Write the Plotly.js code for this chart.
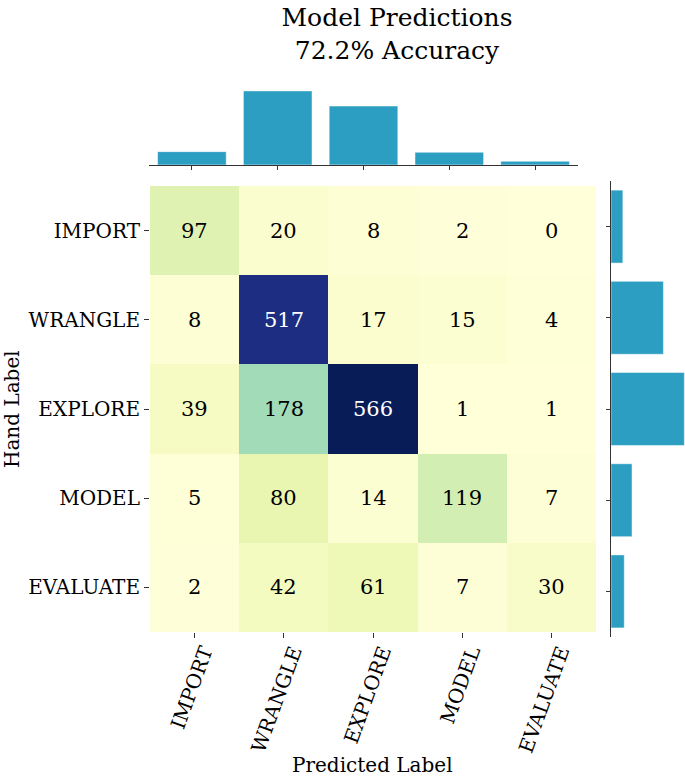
<!DOCTYPE html>
<html>
<head>
<meta charset="utf-8">
<script src="https://cdn.plot.ly/plotly-3.0.1.min.js"></script>
<style>
  html, body { margin: 0; padding: 0; background: #fff; }
  #graph { width: 685px; height: 778px; }
</style>
</head>
<body>
<div id="graph"></div>
<script>
// labels
var predicted = ['IMPORT', 'WRANGLE', 'EXPLORE', 'MODEL', 'EVALUATE']
var hand = ['IMPORT', 'WRANGLE', 'EXPLORE', 'MODEL', 'EVALUATE']

// confusion matrix, one row per hand label
var rowImport = [97, 20, 8, 2, 0]
var rowWrangle = [8, 517, 17, 15, 4]
var rowExplore = [39, 178, 566, 1, 1]
var rowModel = [5, 80, 14, 119, 7]
var rowEvaluate = [2, 42, 61, 7, 30]
var counts = [rowImport, rowWrangle, rowExplore, rowModel, rowEvaluate]

// marginal totals
var colTotals = predicted.map(function(_, j){
  return counts.reduce(function(s, r){ return s + r[j] }, 0)
})
var rowTotals = counts.map(function(r){
  return r.reduce(function(s, v){ return s + v }, 0)
})
var correct = counts.reduce(function(s, r, i){ return s + r[i] }, 0)
var total = rowTotals.reduce(function(s, v){ return s + v }, 0)
var accuracy = (100 * correct / total).toFixed(1)

var zmax = Math.max.apply(null, counts.map(function(r){ return Math.max.apply(null, r) }))

var ylgnbu = [
  [0.000, '#ffffd9'], [0.125, '#edf8b1'], [0.250, '#c7e9b4'],
  [0.375, '#7fcdbb'], [0.500, '#41b6c4'], [0.625, '#1d91c0'],
  [0.750, '#225ea8'], [0.875, '#253494'], [1.000, '#081d58']
]

var serif = 'DejaVu Serif, serif'
var barColor = '#2c9ec2'

var trace_heat = {
  type: 'heatmap',
  x: predicted,
  y: hand,
  z: counts,
  zmin: 0,
  zmax: zmax,
  colorscale: ylgnbu,
  showscale: false,
  xaxis: 'x',
  yaxis: 'y',
  hoverinfo: 'x+y+z'
}

var trace_top = {
  type: 'bar',
  x: predicted,
  y: colTotals,
  width: 0.8,
  marker: { color: barColor, line: { color: 'rgba(255,255,255,0.5)', width: 1 } },
  xaxis: 'x2',
  yaxis: 'y2',
  hoverinfo: 'x+y'
}

var trace_right = {
  type: 'bar',
  orientation: 'h',
  x: rowTotals,
  y: hand,
  width: 0.8,
  marker: { color: barColor, line: { color: 'rgba(255,255,255,0.5)', width: 1 } },
  xaxis: 'x3',
  yaxis: 'y3',
  hoverinfo: 'x+y'
}

// cell labels
var annotations = []
counts.forEach(function(r, i){
  r.forEach(function(v, j){
    annotations.push({
      x: predicted[j], y: hand[i], xref: 'x', yref: 'y',
      text: String(v), showarrow: false,
      font: { family: serif, size: 21, color: v / zmax > 0.6 ? '#ffffff' : '#000000' }
    })
  })
})

annotations.push({
  text: 'Predicted Label', showarrow: false,
  xref: 'paper', yref: 'paper', x: 372/685, y: 0,
  xanchor: 'center', yanchor: 'bottom', borderpad: 0,
  font: { family: serif, size: 20, color: '#000' }
})
annotations.push({
  text: 'Hand Label', showarrow: false, textangle: -90,
  xref: 'paper', yref: 'paper', x: 12/685, y: 1 - 409/778,
  xanchor: 'center', yanchor: 'middle',
  font: { family: serif, size: 20, color: '#000' }
})

var layout = {
  width: 685,
  height: 778,
  margin: { l: 0, r: 0, t: 0, b: 0, pad: 0 },
  paper_bgcolor: '#ffffff',
  plot_bgcolor: '#ffffff',
  showlegend: false,
  bargap: 0,
  title: {
    text: 'Model Predictions<br>' + accuracy + '% Accuracy',
    font: { family: serif, size: 25, color: '#000' },
    x: 397/685, xanchor: 'center',
    y: 1 - 26/778, yanchor: 'middle'
  },
  xaxis: {
    domain: [150/685, 596/685],
    anchor: 'y',
    type: 'category',
    showgrid: false, zeroline: false, showline: false,
    ticks: 'outside', ticklen: 5, tickwidth: 1, tickcolor: '#333',
    tickangle: -70,
    ticklabelshift: 9,
    ticklabelstandoff: -6,
    tickfont: { family: serif, size: 20, color: '#000' }
  },
  yaxis: {
    domain: [1 - 632/778, 1 - 186/778],
    anchor: 'x',
    type: 'category',
    autorange: 'reversed',
    showgrid: false, zeroline: false, showline: false,
    ticks: 'outside', ticklen: 5, tickwidth: 1, tickcolor: '#333',
    tickfont: { family: serif, size: 20, color: '#000' }
  },
  xaxis2: {
    domain: [149/685, 578/685],
    anchor: 'y2',
    type: 'category',
    showgrid: false, zeroline: false,
    showline: true, linecolor: '#333', linewidth: 1,
    ticks: 'outside', ticklen: 4, tickwidth: 1, tickcolor: '#333',
    showticklabels: false
  },
  yaxis2: {
    domain: [1 - 165/778, 1 - 88/778],
    anchor: 'x2',
    range: [0, 870],
    showgrid: false, zeroline: false, showline: false,
    showticklabels: false, ticks: ''
  },
  xaxis3: {
    domain: [611/685, 1],
    anchor: 'y3',
    range: [0, 792],
    showgrid: false, zeroline: false, showline: false,
    showticklabels: false, ticks: ''
  },
  yaxis3: {
    domain: [1 - 637/778, 1 - 181/778],
    anchor: 'x3',
    type: 'category',
    autorange: 'reversed',
    showgrid: false, zeroline: false,
    showline: true, linecolor: '#333', linewidth: 1,
    ticks: 'outside', ticklen: 4, tickwidth: 1, tickcolor: '#333',
    showticklabels: false
  },
  annotations: annotations
}

Plotly.newPlot('graph', [trace_heat, trace_top, trace_right], layout, { displayModeBar: false, staticPlot: true })
</script>
</body>
</html>
